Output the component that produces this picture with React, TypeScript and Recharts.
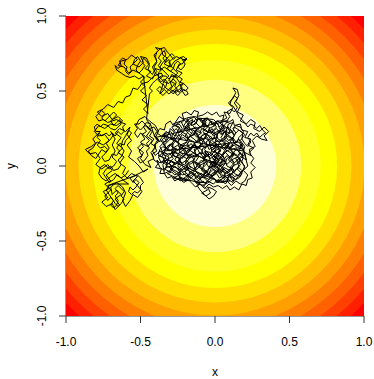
import React from 'react';
import { ComposedChart, Scatter, XAxis, YAxis, ZAxis, Label } from 'recharts';

const FONT = '"Liberation Sans", Arial, Helvetica, sans-serif';

const xTicks = [-1, -0.5, 0, 0.5, 1];
const yTicks = [-1, -0.5, 0, 0.5, 1];
const tickLabels = ['-1.0', '-0.5', '0.0', '0.5', '1.0'];

// upper limits of z = x^2 + y^2 for the 12 image() bands over [0, 2]
const bandUpper = [0.167, 0.333, 0.5, 0.667, 0.833, 1.0, 1.167, 1.333, 1.5, 1.667, 1.833, 2.0];
const bandColors = ['#FFFFD5', '#FFFF80', '#FFFF2A', '#FFFF00', '#FFDF00', '#FFBF00', '#FF9F00', '#FF8000', '#FF6000', '#FF4000', '#FF2000', '#FF0000'];

// random walk
const walkCoreRows = [[-0.22,0.29],[-0.20,0.32],[-0.18,0.29],[-0.15,0.31],[-0.16,0.27],[-0.13,0.28],[-0.11,0.32],[-0.09,0.29],[-0.07,0.31],[-0.08,0.27],[-0.05,0.26],[-0.03,0.30],[-0.01,0.27],[0.01,0.29],[0.03,0.26],[0.05,0.28],[0.06,0.25],
[0.09,0.26],[0.10,0.22],[0.07,0.23],[0.05,0.21],[0.03,0.24],[0.00,0.22],[-0.02,0.25],[-0.04,0.22],[-0.06,0.24],[-0.09,0.25],[-0.10,0.22],[-0.13,0.24],[-0.15,0.21],[-0.17,0.23],[-0.19,0.26],[-0.22,0.24],[-0.24,0.22],[-0.26,0.25],[-0.28,0.23],[-0.30,0.25],[-0.31,0.21],
[-0.34,0.19],[-0.36,0.17],[-0.33,0.16],[-0.31,0.19],[-0.28,0.18],[-0.26,0.21],[-0.24,0.18],[-0.21,0.19],[-0.19,0.17],[-0.17,0.20],[-0.14,0.18],[-0.12,0.16],[-0.10,0.19],[-0.07,0.18],[-0.05,0.21],[-0.03,0.18],[0.00,0.19],[0.02,0.16],[0.05,0.18],[0.07,0.20],[0.09,0.17],[0.12,0.19],[0.14,0.16],[0.16,0.18],
[0.18,0.14],[0.15,0.12],[0.13,0.14],[0.10,0.12],[0.08,0.14],[0.06,0.11],[0.03,0.13],[0.01,0.15],[-0.02,0.12],[-0.04,0.14],[-0.07,0.12],[-0.09,0.15],[-0.11,0.13],[-0.14,0.12],[-0.16,0.15],[-0.18,0.13],[-0.21,0.14],[-0.23,0.11],[-0.25,0.14],[-0.28,0.12],[-0.30,0.14],[-0.32,0.11],[-0.35,0.13],[-0.37,0.11],
[-0.38,0.08],[-0.36,0.06],[-0.34,0.09],[-0.31,0.07],[-0.29,0.09],[-0.27,0.06],[-0.24,0.07],[-0.22,0.05],[-0.20,0.08],[-0.17,0.06],[-0.15,0.09],[-0.12,0.07],[-0.10,0.09],[-0.08,0.06],[-0.05,0.08],[-0.03,0.05],[0.00,0.07],[0.02,0.09],[0.05,0.07],[0.07,0.09],[0.10,0.06],[0.12,0.09],[0.15,0.07],[0.17,0.09],[0.19,0.06],
[0.18,0.03],[0.16,0.05],[0.13,0.02],[0.11,0.04],[0.08,0.01],[0.06,0.04],[0.03,0.02],[0.01,0.04],[-0.02,0.01],[-0.04,0.04],[-0.07,0.02],[-0.09,0.04],[-0.12,0.01],[-0.14,0.03],[-0.17,0.01],[-0.19,0.04],[-0.22,0.02],[-0.24,0.04],[-0.27,0.01],[-0.29,0.03],[-0.32,0.01],[-0.34,0.04],[-0.37,0.02],[-0.39,0.04],
[-0.37,-0.01],[-0.34,-0.03],[-0.32,0.00],[-0.29,-0.02],[-0.27,0.00],[-0.24,-0.03],[-0.22,-0.01],[-0.19,-0.03],[-0.17,0.00],[-0.14,-0.02],[-0.12,0.00],[-0.09,-0.02],[-0.07,-0.04],[-0.04,-0.02],[-0.02,0.00],[0.01,-0.02],[0.03,-0.04],[0.06,-0.02],[0.08,-0.04],[0.11,-0.01],[0.13,-0.03],[0.16,-0.01],[0.18,-0.03],
[0.16,-0.06],[0.13,-0.07],[0.11,-0.05],[0.08,-0.08],[0.06,-0.06],[0.03,-0.08],[0.01,-0.05],[-0.02,-0.07],[-0.04,-0.05],[-0.07,-0.07],[-0.09,-0.05],[-0.12,-0.07],[-0.14,-0.05],[-0.17,-0.07],[-0.19,-0.05],[-0.22,-0.06],[-0.24,-0.04],[-0.27,-0.06],[-0.29,-0.04],[-0.32,-0.05],
[-0.26,-0.08],[-0.23,-0.10],[-0.21,-0.08],[-0.18,-0.10],[-0.16,-0.08],[-0.13,-0.10],[-0.11,-0.12],[-0.08,-0.10],[-0.06,-0.12],[-0.03,-0.10],[-0.01,-0.08],[0.02,-0.11],[0.04,-0.09],[0.07,-0.12],[0.09,-0.09],[0.12,-0.11],[0.13,-0.08]];

const walkCoreCols = [[-0.34,0.21],[-0.32,0.18],[-0.35,0.15],[-0.33,0.12],[-0.36,0.09],[-0.33,0.06],[-0.35,0.03],[-0.32,0.00],[-0.34,-0.02],
[-0.30,-0.04],[-0.28,-0.01],[-0.31,0.02],[-0.28,0.05],[-0.30,0.08],[-0.27,0.11],[-0.29,0.14],[-0.26,0.17],[-0.29,0.20],[-0.27,0.23],[-0.29,0.26],
[-0.24,0.28],[-0.22,0.25],[-0.25,0.22],[-0.23,0.19],[-0.25,0.16],[-0.22,0.13],[-0.24,0.10],[-0.21,0.07],[-0.24,0.04],[-0.22,0.01],[-0.25,-0.02],[-0.23,-0.05],[-0.24,-0.08],
[-0.19,-0.10],[-0.17,-0.07],[-0.20,-0.04],[-0.18,-0.01],[-0.20,0.02],[-0.17,0.05],[-0.19,0.08],[-0.16,0.11],[-0.19,0.14],[-0.17,0.17],[-0.20,0.20],[-0.18,0.23],[-0.20,0.26],[-0.17,0.29],[-0.19,0.32],
[-0.14,0.33],[-0.12,0.30],[-0.15,0.27],[-0.12,0.24],[-0.14,0.21],[-0.11,0.18],[-0.14,0.15],[-0.12,0.12],[-0.14,0.09],[-0.11,0.06],[-0.13,0.03],[-0.10,0.00],[-0.13,-0.03],[-0.11,-0.06],[-0.14,-0.09],[-0.12,-0.12],
[-0.07,-0.13],[-0.05,-0.10],[-0.08,-0.07],[-0.06,-0.04],[-0.08,-0.01],[-0.05,0.02],[-0.07,0.05],[-0.04,0.08],[-0.07,0.11],[-0.05,0.14],[-0.08,0.17],[-0.06,0.20],[-0.08,0.23],[-0.05,0.26],[-0.07,0.29],[-0.05,0.31],
[-0.01,0.29],[0.01,0.26],[-0.02,0.23],[0.00,0.20],[-0.02,0.17],[0.01,0.14],[-0.01,0.11],[0.02,0.08],[-0.01,0.05],[0.01,0.02],[-0.02,-0.01],[0.00,-0.04],[-0.02,-0.07],[0.01,-0.10],
[0.05,-0.11],[0.07,-0.08],[0.04,-0.05],[0.06,-0.02],[0.04,0.01],[0.07,0.04],[0.05,0.07],[0.08,0.10],[0.05,0.13],[0.07,0.16],[0.04,0.19],[0.06,0.22],[0.04,0.25],[0.06,0.27],
[0.11,0.23],[0.13,0.20],[0.10,0.17],[0.12,0.14],[0.10,0.11],[0.13,0.08],[0.11,0.05],[0.13,0.02],[0.10,-0.01],[0.12,-0.04],[0.10,-0.07],[0.12,-0.10],
[0.16,-0.08],[0.18,-0.05],[0.15,-0.02],[0.17,0.01],[0.15,0.04],[0.18,0.07],[0.16,0.10],[0.18,0.13],[0.16,0.16]];

const walkCoreDiagA = [[-0.34,0.10],[-0.31,0.14],[-0.29,0.15],[-0.25,0.20],[-0.23,0.21],[-0.19,0.26],[-0.17,0.27],[-0.13,0.31],
[-0.05,0.32],[-0.08,0.29],[-0.09,0.26],[-0.13,0.24],[-0.14,0.21],[-0.18,0.19],[-0.19,0.16],[-0.23,0.14],[-0.24,0.11],[-0.28,0.09],[-0.29,0.06],[-0.33,0.04],[-0.35,0.01],
[-0.34,-0.05],[-0.30,-0.03],[-0.29,0.00],[-0.25,0.02],[-0.24,0.05],[-0.20,0.07],[-0.19,0.10],[-0.15,0.12],[-0.14,0.15],[-0.10,0.17],[-0.09,0.20],[-0.05,0.22],[-0.04,0.25],[0.00,0.27],[0.01,0.30],
[0.09,0.30],[0.06,0.27],[0.06,0.24],[0.02,0.22],[0.01,0.19],[-0.03,0.17],[-0.04,0.14],[-0.08,0.12],[-0.09,0.09],[-0.13,0.07],[-0.14,0.04],[-0.18,0.02],[-0.19,-0.01],[-0.23,-0.03],[-0.24,-0.06],[-0.28,-0.08],
[-0.21,-0.10],[-0.18,-0.07],[-0.17,-0.04],[-0.13,-0.02],[-0.12,0.01],[-0.08,0.03],[-0.07,0.06],[-0.03,0.08],[-0.02,0.11],[0.02,0.13],[0.03,0.16],[0.07,0.18],[0.08,0.21],[0.12,0.23],[0.13,0.26],
[0.19,0.22],[0.16,0.19],[0.15,0.16],[0.11,0.14],[0.10,0.11],[0.06,0.09],[0.05,0.06],[0.01,0.04],[0.00,0.01],[-0.04,-0.01],[-0.05,-0.04],[-0.09,-0.06],[-0.10,-0.09],[-0.13,-0.11],
[-0.06,-0.11],[-0.03,-0.08],[-0.02,-0.05],[0.02,-0.03],[0.03,0.00],[0.07,0.02],[0.08,0.05],[0.12,0.07],[0.13,0.10],[0.17,0.12],[0.18,0.15],
[0.20,0.08],[0.17,0.05],[0.16,0.02],[0.12,0.00],[0.11,-0.03],[0.07,-0.05],[0.06,-0.08],[0.02,-0.10]];

const walkCoreDiagB = [[-0.38,0.07],[-0.35,0.06],[-0.34,0.03],[-0.30,0.01],[-0.29,-0.02],[-0.25,-0.04],[-0.24,-0.07],[-0.20,-0.09],
[-0.10,-0.11],[-0.13,-0.08],[-0.14,-0.05],[-0.18,-0.03],[-0.19,0.00],[-0.23,0.02],[-0.24,0.05],[-0.28,0.07],[-0.29,0.10],[-0.33,0.12],[-0.34,0.15],[-0.37,0.17],
[-0.33,0.23],[-0.30,0.21],[-0.29,0.18],[-0.25,0.16],[-0.24,0.13],[-0.20,0.11],[-0.19,0.08],[-0.15,0.06],[-0.14,0.03],[-0.10,0.01],[-0.09,-0.02],[-0.05,-0.04],[-0.04,-0.07],[0.00,-0.09],[0.01,-0.11],
[0.10,-0.10],[0.07,-0.07],[0.06,-0.04],[0.02,-0.02],[0.01,0.01],[-0.03,0.03],[-0.04,0.06],[-0.08,0.08],[-0.09,0.11],[-0.13,0.13],[-0.14,0.16],[-0.18,0.18],[-0.19,0.21],[-0.23,0.23],[-0.24,0.26],[-0.27,0.27],
[-0.21,0.31],[-0.18,0.28],[-0.17,0.25],[-0.13,0.23],[-0.12,0.20],[-0.08,0.18],[-0.07,0.15],[-0.03,0.13],[-0.02,0.10],[0.02,0.08],[0.03,0.05],[0.07,0.03],[0.08,0.00],[0.12,-0.02],[0.13,-0.05],[0.17,-0.07],
[0.20,0.00],[0.17,0.03],[0.16,0.06],[0.12,0.08],[0.11,0.11],[0.07,0.13],[0.06,0.16],[0.02,0.18],[0.01,0.21],[-0.03,0.23],[-0.04,0.26],[-0.08,0.28],[-0.09,0.31],[-0.12,0.32],
[-0.01,0.31],[0.02,0.28],[0.03,0.25],[0.07,0.23],[0.08,0.20],[0.12,0.18],[0.13,0.15],[0.17,0.13],[0.19,0.10]];

const walkCoreEdge = [[-0.36,0.20],[-0.39,0.22],[-0.37,0.25],[-0.34,0.24],[-0.33,0.28],[-0.30,0.30],[-0.28,0.27],[-0.26,0.30],[-0.24,0.33],[-0.21,0.31],[-0.22,0.35],[-0.19,0.36],[-0.16,0.34],[-0.14,0.37],[-0.11,0.36],[-0.12,0.33],[-0.08,0.34],[-0.05,0.36],[-0.02,0.34],[0.01,0.36],[0.03,0.33],[0.06,0.34],[0.05,0.30],[0.09,0.29],[0.12,0.31],[0.13,0.27],[0.17,0.28],[0.18,0.24],[0.22,0.23],[0.20,0.19],[0.24,0.18],[0.22,0.14],[0.26,0.12],[0.23,0.09],[0.26,0.05],[0.24,0.02],[0.27,-0.01],[0.24,-0.04],[0.25,-0.08],[0.22,-0.09],[0.21,-0.13],[0.18,-0.12],[0.16,-0.16],[0.13,-0.14],[0.10,-0.16],[0.08,-0.13],[0.05,-0.15],[0.02,-0.13],[-0.01,-0.14],[-0.04,-0.12],[-0.07,-0.15],[-0.10,-0.12],[-0.13,-0.14],[-0.16,-0.11],[-0.18,-0.09],[-0.21,-0.11],[-0.24,-0.08],[-0.27,-0.10],[-0.29,-0.07],[-0.32,-0.08],[-0.34,-0.05],[-0.37,-0.05],[-0.36,-0.02],[-0.40,-0.01],[-0.38,0.02],[-0.41,0.04],[-0.42,0.08],[-0.39,0.10],[-0.41,0.14],[-0.38,0.16],[-0.40,0.19]];

const walkRightFuzz = [[0.08,0.30],[0.10,0.33],[0.08,0.36],[0.11,0.38],[0.13,0.36],[0.15,0.39],[0.13,0.42],[0.15,0.45],[0.13,0.47],[0.11,0.44],[0.10,0.41],[0.12,0.40],[0.14,0.37],[0.16,0.33],[0.18,0.31],[0.20,0.29],[0.22,0.26],[0.24,0.28],[0.26,0.27],[0.28,0.25],[0.30,0.27],[0.32,0.24],[0.34,0.22],[0.32,0.21],[0.30,0.19],[0.28,0.22],[0.26,0.20],[0.24,0.22],[0.22,0.19],[0.24,0.16],[0.22,0.13],[0.20,0.15],[0.18,0.18],[0.19,0.23],[0.17,0.26],[0.14,0.27],[0.12,0.25],[0.14,0.22]];

const walkCore = [[0.00,0.00],[0.03,0.04],[-0.01,0.07],[0.04,0.10],[0.01,0.14],[-0.04,0.11],[-0.06,0.16],[-0.02,0.19],[-0.07,0.22],[-0.11,0.18],[-0.09,0.13],[-0.14,0.11],[-0.12,0.06],[-0.17,0.08],[-0.20,0.03],[-0.16,-0.01],[-0.21,-0.04],[-0.25,0.00],[-0.23,0.05],[-0.28,0.07],[-0.26,0.12],[-0.31,0.10],[-0.34,0.14],[-0.30,0.18],[-0.25,0.16],[-0.22,0.21],[-0.18,0.18],[-0.15,0.23],[-0.19,0.27],[-0.14,0.30],[-0.10,0.26],[-0.06,0.29],[-0.08,0.24],[-0.03,0.22],[0.01,0.25],[0.04,0.21],[0.08,0.24],[0.06,0.18],[0.10,0.15],[0.07,0.11],[0.12,0.08],[0.09,0.04],[0.13,0.01],[0.10,-0.03],[0.06,-0.01],[0.03,-0.05],[-0.01,-0.02],[-0.05,-0.06],[-0.09,-0.03],[-0.07,0.02],[-0.11,0.00],[-0.15,0.03],[-0.13,-0.03],[-0.18,-0.06],[-0.22,-0.09],[-0.26,-0.05],[-0.30,-0.02],[-0.27,0.02],[-0.32,0.04],[-0.36,0.02],[-0.38,0.06],[-0.35,0.09],[-0.37,0.13],[-0.33,0.17],[-0.35,0.21],[-0.30,0.23],[-0.27,0.20],[-0.24,0.25],[-0.28,0.28],[-0.23,0.30],[-0.20,0.24],[-0.16,0.20],[-0.12,0.22],[-0.10,0.17],[-0.05,0.19],[-0.03,0.14],[0.02,0.17],[0.05,0.13],[0.02,0.09],[0.06,0.06],[0.03,0.01],[-0.02,0.03],[-0.04,-0.01],[-0.08,0.05],[-0.06,0.09],[-0.10,0.08],[-0.13,0.14],[-0.17,0.12],[-0.19,0.16],[-0.22,0.13],[-0.20,0.08],[-0.24,0.09],[-0.27,0.04],[-0.23,0.01],[-0.19,-0.02],[-0.14,-0.06],[-0.10,-0.09],[-0.06,-0.04],[-0.02,-0.07],[0.02,-0.03],[0.05,-0.08],[0.09,-0.06],[0.13,-0.04],[0.16,0.00],[0.14,0.05],[0.17,0.08],[0.14,0.12],[0.11,0.11],[0.08,0.15],[0.03,0.12],[0.00,0.10],[-0.04,0.06],[-0.07,0.10],[-0.03,0.09],[-0.01,0.04],[0.03,0.07],[0.07,0.02],[0.04,-0.02],[0.00,-0.05],[-0.04,-0.09],[-0.08,-0.07],[-0.12,-0.04],[-0.16,-0.08],[-0.20,-0.06],[-0.24,-0.02],[-0.29,0.00],[-0.33,-0.01],[-0.31,0.06],[-0.35,0.08],[-0.32,0.13],[-0.28,0.15],[-0.29,0.10],[-0.25,0.08],[-0.21,0.11],[-0.18,0.09],[-0.15,0.14],[-0.11,0.12],[-0.08,0.16],[-0.12,0.20],[-0.09,0.22],[-0.13,0.26],[-0.17,0.24],[-0.21,0.27],[-0.18,0.31],[-0.13,0.33],[-0.09,0.30],[-0.05,0.32],[-0.02,0.28],[0.02,0.30],[0.05,0.27],[0.03,0.23],[-0.01,0.20],[-0.04,0.24],[-0.07,0.19],[-0.03,0.16],[0.01,0.12],[-0.02,0.08],[0.01,0.05],[-0.03,0.01],[0.01,-0.01],[0.05,0.03],[0.08,0.07],[0.11,0.04],[0.15,0.06],[0.18,0.03],[0.20,-0.01],[0.17,-0.05],[0.14,-0.09],[0.10,-0.07],[0.06,-0.11],[0.02,-0.09],[-0.01,-0.12]];

const walkTail = [[-0.05,-0.10],[-0.08,-0.13],[-0.05,-0.16],[-0.09,-0.18],[-0.06,-0.20],[-0.03,-0.18],[-0.05,-0.14],[-0.02,-0.15],[0.01,-0.17],[-0.01,-0.20],[-0.04,-0.22],[-0.07,-0.19],[-0.10,-0.16],[-0.12,-0.13],[-0.09,-0.10],[-0.11,-0.07],[-0.07,-0.08],[-0.04,-0.05],[-0.01,0.02],[0.03,0.10],[0.00,0.16]];

const walkRightArm = [[0.02,0.22],[0.06,0.26],[0.04,0.30],[0.08,0.32],[0.06,0.36],[0.10,0.35],[0.12,0.39],[0.09,0.42],[0.12,0.45],[0.14,0.49],[0.12,0.52],[0.15,0.51],[0.16,0.47],[0.14,0.43],[0.17,0.40],[0.15,0.36],[0.19,0.34],[0.17,0.30],[0.21,0.28],[0.24,0.31],[0.27,0.29],[0.26,0.25],[0.30,0.23],[0.33,0.26],[0.36,0.23],[0.33,0.20],[0.35,0.17],[0.31,0.18],[0.28,0.20],[0.25,0.17],[0.27,0.13],[0.23,0.11],[0.24,0.07],[0.20,0.09],[0.21,0.04],[0.18,0.06],[0.20,0.13],[0.17,0.17],[0.20,0.21],[0.16,0.24],[0.13,0.21],[0.10,0.25],[0.12,0.29],[0.09,0.28],[0.07,0.22],[0.11,0.19],[0.13,0.15],[0.16,0.13],[0.19,0.11],[0.22,0.00],[0.19,-0.03],[0.22,-0.06],[0.20,-0.10],[0.17,-0.12],[0.14,-0.10],[0.11,-0.13],[0.08,-0.10],[0.10,-0.05],[0.07,-0.03],[0.02,0.01],[-0.05,0.04],[-0.12,0.07],[-0.19,0.05],[-0.26,0.09],[-0.32,0.08],[-0.37,0.10]];

const walkBridgeFuzz = [[-0.40,0.07],[-0.42,0.10],[-0.40,0.13],[-0.43,0.15],[-0.41,0.18],[-0.44,0.20],[-0.42,0.23],[-0.45,0.25],[-0.43,0.28],[-0.46,0.29],[-0.48,0.26],[-0.46,0.23],[-0.49,0.21],[-0.47,0.18],[-0.50,0.16],[-0.48,0.13],[-0.51,0.10],[-0.49,0.07],[-0.52,0.05],[-0.50,0.02],[-0.47,0.04],[-0.45,0.07],[-0.46,0.10],[-0.44,0.12],[-0.46,0.15],[-0.44,0.17],[-0.47,0.20],[-0.50,0.22],[-0.52,0.19],[-0.54,0.22],[-0.52,0.25],[-0.54,0.28],[-0.51,0.28],[-0.49,0.30],[-0.46,0.27],[-0.44,0.25],[-0.41,0.26],[-0.39,0.23],[-0.41,0.20],[-0.38,0.18],[-0.40,0.15]];

const walkBridge = [[-0.40,0.12],[-0.43,0.09],[-0.41,0.05],[-0.45,0.03],[-0.43,-0.01],[-0.47,0.01],[-0.50,0.05],[-0.48,0.09],[-0.52,0.12],[-0.49,0.15],[-0.45,0.13],[-0.42,0.17],[-0.46,0.20],[-0.43,0.24],[-0.47,0.27],[-0.50,0.24],[-0.53,0.27],[-0.51,0.31],[-0.47,0.33],[-0.44,0.30],[-0.40,0.27],[-0.38,0.23],[-0.40,0.19],[-0.37,0.16],[-0.41,0.21],[-0.43,0.27],[-0.46,0.31]];

const walkLowerCluster = [[-0.38,0.58],[-0.36,0.56],[-0.34,0.58],[-0.32,0.56],[-0.33,0.53],[-0.35,0.51],[-0.37,0.53],[-0.39,0.51],[-0.37,0.49],[-0.35,0.47],[-0.33,0.49],[-0.31,0.51],[-0.29,0.53],[-0.30,0.56],[-0.28,0.58],[-0.26,0.56],[-0.27,0.53],[-0.25,0.51],[-0.27,0.49],[-0.25,0.47],[-0.23,0.49],[-0.21,0.51],[-0.19,0.50],[-0.18,0.48],[-0.20,0.47],[-0.22,0.50],[-0.23,0.53],[-0.21,0.55],[-0.24,0.56],[-0.26,0.59],[-0.29,0.60],[-0.31,0.58],[-0.33,0.60],[-0.36,0.60],[-0.40,0.57],[-0.42,0.55],[-0.44,0.52],[-0.42,0.50],[-0.44,0.48]];

const walkTopRight = [[-0.38,0.62],[-0.36,0.64],[-0.38,0.67],[-0.36,0.70],[-0.38,0.72],[-0.36,0.75],[-0.34,0.77],[-0.33,0.74],[-0.35,0.72],[-0.33,0.69],[-0.31,0.71],[-0.30,0.68],[-0.32,0.65],[-0.30,0.63],[-0.28,0.65],[-0.27,0.68],[-0.25,0.70],[-0.23,0.68],[-0.25,0.66],[-0.23,0.64],[-0.21,0.66],[-0.20,0.68],[-0.22,0.71],[-0.19,0.71],[-0.21,0.73],[-0.24,0.72],[-0.26,0.73],[-0.28,0.71],[-0.30,0.74],[-0.32,0.76],[-0.34,0.79],[-0.37,0.78],[-0.39,0.76],[-0.40,0.73],[-0.39,0.69],[-0.41,0.66],[-0.39,0.63]];

const walkUpperFuzz = [[-0.40,0.62],[-0.38,0.60],[-0.36,0.58],[-0.34,0.56],[-0.31,0.55],[-0.29,0.57],[-0.27,0.60],[-0.25,0.62],[-0.27,0.64],[-0.29,0.66],[-0.31,0.69],[-0.29,0.71],[-0.27,0.73],[-0.29,0.75],[-0.31,0.73],[-0.33,0.71],[-0.35,0.69],[-0.37,0.66],[-0.35,0.64],[-0.33,0.62],[-0.31,0.60],[-0.33,0.58],[-0.35,0.55],[-0.33,0.52],[-0.30,0.50],[-0.28,0.48],[-0.26,0.51],[-0.24,0.49],[-0.22,0.52],[-0.24,0.55],[-0.22,0.58],[-0.25,0.60],[-0.28,0.62],[-0.31,0.64],[-0.34,0.66],[-0.37,0.64],[-0.40,0.65],[-0.42,0.61]];

const walkTopLeft = [[-0.43,0.62],[-0.45,0.64],[-0.44,0.67],[-0.46,0.70],[-0.48,0.72],[-0.49,0.69],[-0.47,0.67],[-0.49,0.64],[-0.51,0.62],[-0.53,0.64],[-0.52,0.67],[-0.50,0.70],[-0.52,0.73],[-0.54,0.71],[-0.55,0.68],[-0.57,0.66],[-0.56,0.63],[-0.58,0.61],[-0.60,0.63],[-0.59,0.66],[-0.61,0.68],[-0.60,0.71],[-0.62,0.72],[-0.64,0.70],[-0.63,0.67],[-0.65,0.65],[-0.67,0.67],[-0.66,0.64],[-0.63,0.62],[-0.60,0.60],[-0.57,0.59],[-0.54,0.60],[-0.51,0.58],[-0.48,0.60]];

const walkUpperArm = [[-0.45,0.35],[-0.48,0.38],[-0.45,0.41],[-0.49,0.44],[-0.46,0.47],[-0.50,0.50],[-0.47,0.53],[-0.50,0.56],[-0.47,0.59],[-0.51,0.62],[-0.55,0.64],[-0.58,0.62],[-0.61,0.66],[-0.65,0.67],[-0.63,0.70],[-0.59,0.71],[-0.56,0.74],[-0.52,0.71],[-0.55,0.68],[-0.51,0.66],[-0.48,0.69],[-0.50,0.73],[-0.46,0.72],[-0.44,0.68],[-0.47,0.65],[-0.43,0.63],[-0.46,0.60],[-0.42,0.58],[-0.40,0.62],[-0.42,0.66],[-0.39,0.70],[-0.41,0.74],[-0.38,0.77],[-0.40,0.79],[-0.36,0.78],[-0.35,0.74],[-0.32,0.72],[-0.34,0.68],[-0.30,0.66],[-0.27,0.70],[-0.23,0.72],[-0.20,0.70],[-0.19,0.72],[-0.22,0.68],[-0.24,0.68],[-0.26,0.64],[-0.22,0.62],[-0.25,0.59],[-0.29,0.61],[-0.31,0.57],[-0.27,0.55],[-0.30,0.51],[-0.26,0.49],[-0.23,0.52],[-0.20,0.50],[-0.18,0.52],[-0.21,0.55],[-0.24,0.54],[-0.27,0.51],[-0.31,0.48],[-0.34,0.51],[-0.37,0.48],[-0.35,0.54],[-0.38,0.57],[-0.35,0.60],[-0.36,0.62],[-0.41,0.60],[-0.45,0.56],[-0.49,0.55],[-0.52,0.51],[-0.55,0.52],[-0.57,0.47],[-0.60,0.46],[-0.62,0.42],[-0.65,0.43],[-0.68,0.39]];

const walkLeftArm = [[-0.72,0.41],[-0.75,0.38],[-0.79,0.36],[-0.76,0.33],[-0.72,0.35],[-0.69,0.31],[-0.65,0.33],[-0.62,0.30],[-0.66,0.27],[-0.70,0.28],[-0.74,0.25],[-0.78,0.27],[-0.81,0.23],[-0.78,0.20],[-0.74,0.21],[-0.71,0.17],[-0.75,0.14],[-0.79,0.16],[-0.83,0.13],[-0.87,0.11],[-0.84,0.08],[-0.80,0.09],[-0.77,0.05],[-0.80,0.01],[-0.76,-0.02],[-0.72,0.01],[-0.69,-0.03],[-0.73,-0.06],[-0.70,-0.10],[-0.74,-0.12],[-0.71,-0.15],[-0.75,-0.17],[-0.72,-0.21],[-0.76,-0.24],[-0.73,-0.27],[-0.69,-0.25],[-0.67,-0.29],[-0.64,-0.26],[-0.67,-0.22],[-0.63,-0.19],[-0.66,-0.16],[-0.69,-0.19],[-0.70,-0.14],[-0.66,-0.11],[-0.62,-0.14],[-0.60,-0.18],[-0.62,-0.23],[-0.60,-0.27],[-0.57,-0.23],[-0.55,-0.19],[-0.52,-0.21],[-0.49,-0.17],[-0.52,-0.13],[-0.55,-0.10],[-0.52,-0.07],[-0.56,-0.05],[-0.59,-0.08],[-0.62,-0.05],[-0.60,-0.01],[-0.64,0.02],[-0.61,0.06],[-0.65,0.09],[-0.62,0.12],[-0.66,0.15],[-0.63,0.19],[-0.67,0.22],[-0.64,0.25],[-0.60,0.23],[-0.57,0.26],[-0.59,0.21],[-0.56,0.17],[-0.59,0.14],[-0.56,0.10],[-0.58,0.06],[-0.54,0.03],[-0.51,0.00],[-0.48,-0.04],[-0.45,-0.02]];

const walkBottomRightBlob = [[-0.57,-0.08],[-0.55,-0.11],[-0.53,-0.09],[-0.51,-0.11],[-0.53,-0.14],[-0.55,-0.16],[-0.57,-0.14],[-0.58,-0.17],[-0.56,-0.19],[-0.54,-0.17],[-0.52,-0.18],[-0.50,-0.16],[-0.50,-0.13],[-0.48,-0.11],[-0.50,-0.08],[-0.52,-0.06],[-0.55,-0.07]];

const walkBottomBlob = [[-0.72,-0.13],[-0.70,-0.16],[-0.72,-0.18],[-0.74,-0.20],[-0.72,-0.23],[-0.70,-0.21],[-0.68,-0.23],[-0.70,-0.26],[-0.68,-0.28],[-0.66,-0.26],[-0.65,-0.23],[-0.67,-0.20],[-0.65,-0.18],[-0.67,-0.15],[-0.65,-0.13],[-0.63,-0.15],[-0.61,-0.17],[-0.63,-0.20],[-0.61,-0.22],[-0.63,-0.25],[-0.65,-0.27],[-0.67,-0.25],[-0.69,-0.22],[-0.71,-0.19],[-0.73,-0.16],[-0.71,-0.13],[-0.68,-0.12]];

const walkLeftMid = [[-0.82,0.18],[-0.80,0.15],[-0.82,0.12],[-0.85,0.10],[-0.83,0.07],[-0.80,0.05],[-0.78,0.08],[-0.76,0.11],[-0.73,0.09],[-0.71,0.12],[-0.73,0.15],[-0.70,0.18],[-0.68,0.21],[-0.70,0.23],[-0.67,0.18],[-0.69,0.14],[-0.67,0.10],[-0.69,0.06],[-0.66,0.03],[-0.68,0.00],[-0.71,-0.02],[-0.74,0.01],[-0.77,-0.01],[-0.78,-0.05],[-0.76,-0.08],[-0.73,-0.10],[-0.70,-0.07],[-0.67,-0.05],[-0.64,-0.07],[-0.61,-0.10],[-0.58,-0.12]];

const walkLeftTop = [[-0.80,0.33],[-0.78,0.35],[-0.76,0.37],[-0.74,0.35],[-0.76,0.32],[-0.74,0.30],[-0.72,0.32],[-0.70,0.34],[-0.68,0.36],[-0.66,0.34],[-0.68,0.32],[-0.70,0.30],[-0.68,0.27],[-0.66,0.29],[-0.64,0.31],[-0.63,0.28],[-0.65,0.26],[-0.67,0.24],[-0.70,0.25],[-0.72,0.27],[-0.75,0.28],[-0.77,0.26],[-0.79,0.28],[-0.81,0.26],[-0.80,0.23],[-0.77,0.23]];

const walkLeftFuzz = [[-0.78,0.30],[-0.75,0.31],[-0.72,0.29],[-0.69,0.30],[-0.66,0.31],[-0.63,0.29],[-0.60,0.28],[-0.62,0.26],[-0.61,0.23],[-0.63,0.21],[-0.65,0.23],[-0.67,0.20],[-0.69,0.22],[-0.71,0.20],[-0.73,0.22],[-0.76,0.20],[-0.78,0.22],[-0.79,0.19],[-0.77,0.17],[-0.79,0.14],[-0.77,0.12],[-0.74,0.13],[-0.72,0.11],[-0.74,0.08],[-0.76,0.06],[-0.74,0.03],[-0.71,0.04],[-0.69,0.08],[-0.66,0.07],[-0.64,0.10],[-0.66,0.12],[-0.64,0.15],[-0.61,0.14],[-0.60,0.17],[-0.58,0.19],[-0.56,0.22],[-0.58,0.24],[-0.60,0.20],[-0.62,0.17],[-0.63,0.13],[-0.61,0.10],[-0.63,0.06],[-0.65,0.04],[-0.63,0.01],[-0.65,-0.02],[-0.68,-0.03],[-0.70,0.00],[-0.73,-0.02],[-0.75,-0.05],[-0.73,-0.08],[-0.71,-0.11],[-0.68,-0.09],[-0.66,-0.06],[-0.63,-0.08],[-0.60,-0.06],[-0.58,-0.03]];

const ringData = bandUpper
  .map((z, i) => ({ x: 0, y: 0, z, color: bandColors[i] }))
  .reverse();

const walkData = [
  ...walkCoreRows,
  ...walkCoreCols,
  ...walkCoreDiagA,
  ...walkCoreDiagB,
  ...walkCoreEdge,
  ...walkRightFuzz,
  ...walkCore,
  ...walkTail,
  ...walkRightArm,
  ...walkBridgeFuzz,
  ...walkBridge,
  ...[...walkLowerCluster].reverse(),
  ...walkTopRight,
  ...walkUpperFuzz,
  ...walkTopLeft,
  ...walkUpperArm,
  ...walkLeftArm,
  ...walkBottomRightBlob,
  ...walkBottomBlob,
  ...[...walkLeftMid].reverse(),
  ...[...walkLeftTop].reverse(),
  ...walkLeftFuzz,
].map(([x, y]) => ({ x, y }));

const labelFor = (v: number) => {
  const i = xTicks.findIndex((t) => Math.abs(t - v) < 1e-9);
  return i >= 0 ? tickLabels[i] : String(v);
};

const XTick = (props: any) => {
  const { x, y, payload } = props;
  return (
    <text x={x} y={y + 21} textAnchor="middle" fontSize={12} fontFamily={FONT} fill="#000">
      {labelFor(payload.value)}
    </text>
  );
};

const YTick = (props: any) => {
  const { x, y, payload } = props;
  const bx = x - 11;
  return (
    <text x={bx} y={y} textAnchor="middle" fontSize={12} fontFamily={FONT} fill="#000" transform={`rotate(-90, ${bx}, ${y})`}>
      {labelFor(payload.value)}
    </text>
  );
};

const XTitle = (props: any) => {
  const vb = props.viewBox || { x: 66, y: 316, width: 298, height: 63 };
  return (
    <text x={vb.x + vb.width / 2} y={vb.y + 60} textAnchor="middle" fontSize={12} fontFamily={FONT} fill="#000">x</text>
  );
};

const YTitle = (props: any) => {
  const vb = props.viewBox || { x: 0, y: 16, width: 66, height: 300 };
  const bx = vb.x + 15;
  const cy = vb.y + vb.height / 2;
  return (
    <text x={bx} y={cy} textAnchor="middle" fontSize={12} fontFamily={FONT} fill="#000" transform={`rotate(-90, ${bx}, ${cy})`}>y</text>
  );
};

const RingShape = (props: any) => {
  const r = (props.width || 0) / 2;
  const color = props.color || (props.payload && props.payload.color);
  return <circle cx={props.cx} cy={props.cy} r={r} fill={color} stroke="none" />;
};

const NoShape = () => <g />;

const PX_PER_UNIT = 149.5;

export default function App() {
  return (
    <div style={{ position: 'absolute', left: 0, top: 0, background: '#fff' }}>
      <ComposedChart width={374} height={379} margin={{ top: 16, right: 10, bottom: 0, left: 0 }}>
        <XAxis
          type="number"
          dataKey="x"
          domain={[-1, 1]}
          ticks={xTicks}
          interval={0}
          allowDataOverflow
          height={63}
          tickSize={7}
          axisLine={{ stroke: '#333' }}
          tickLine={{ stroke: '#333' }}
          tick={<XTick />}
        >
          <Label content={<XTitle />} />
        </XAxis>
        <YAxis
          type="number"
          dataKey="y"
          domain={[-1, 1]}
          ticks={yTicks}
          interval={0}
          allowDataOverflow
          width={66}
          tickSize={7}
          axisLine={{ stroke: '#333' }}
          tickLine={{ stroke: '#333' }}
          tick={<YTick />}
        >
          <Label content={<YTitle />} />
        </YAxis>
        <XAxis xAxisId="top" orientation="top" type="number" domain={[-1, 1]} height={0} tick={false} tickLine={false} axisLine={{ stroke: '#333' }} />
        <YAxis yAxisId="right" orientation="right" type="number" domain={[-1, 1]} width={0} tick={false} tickLine={false} axisLine={{ stroke: '#333' }} />
        <ZAxis zAxisId="ring" type="number" dataKey="z" domain={[0, 2]} range={[0, Math.PI * PX_PER_UNIT * PX_PER_UNIT * 2]} />
        <Scatter data={ringData} zAxisId="ring" shape={<RingShape />} isAnimationActive={false} />
        <Scatter
          data={walkData}
          shape={<NoShape />}
          line={{ stroke: '#000', strokeWidth: 1 }}
          lineType="joint"
          isAnimationActive={false}
        />
      </ComposedChart>
    </div>
  );
}
